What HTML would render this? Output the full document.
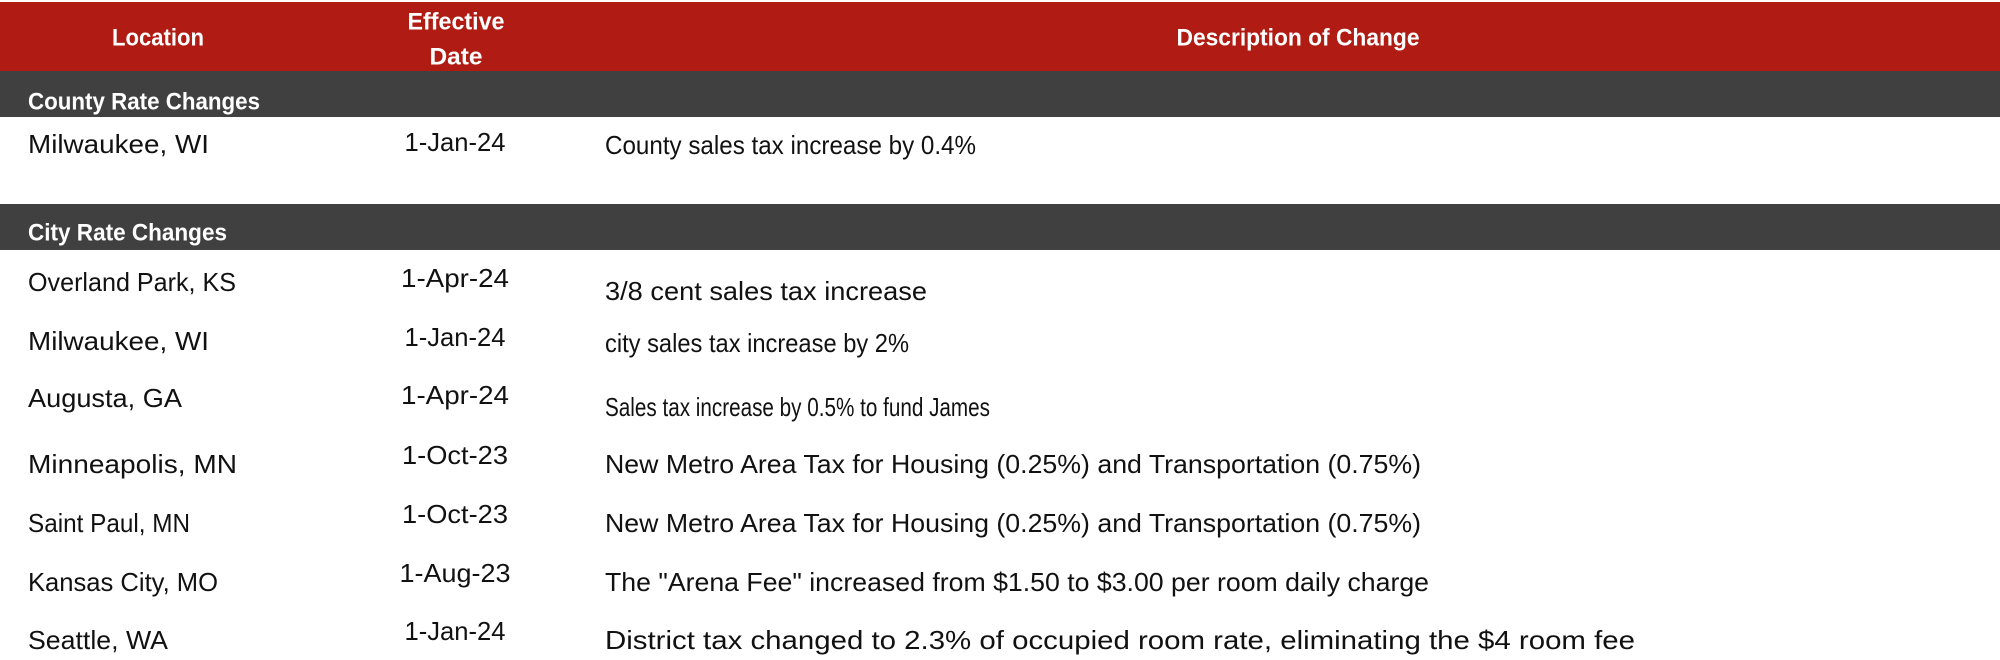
<!DOCTYPE html>
<html><head><meta charset="utf-8"><style>
html,body{margin:0;padding:0;background:#fff;width:2000px;height:660px;overflow:hidden}
svg text{font-family:"Liberation Sans Narrow","Liberation Sans",sans-serif;dominant-baseline:central}
.h{fill:#fff;font-weight:bold;font-size:24px}
.t{fill:#111;font-size:26px}
</style></head><body>
<svg width="2000" height="660" viewBox="0 0 2000 660" xmlns="http://www.w3.org/2000/svg">
<rect x="0" y="2" width="2000" height="69" fill="#b01c14"/>
<rect x="0" y="71" width="2000" height="46" fill="#404040"/>
<rect x="0" y="204" width="2000" height="46" fill="#404040"/>
<g class="h">
<text x="158" y="38" text-anchor="middle" textLength="92" lengthAdjust="spacingAndGlyphs">Location</text>
<text x="456" y="22" text-anchor="middle" textLength="97" lengthAdjust="spacingAndGlyphs">Effective</text>
<text x="456" y="57" text-anchor="middle" textLength="53" lengthAdjust="spacingAndGlyphs">Date</text>
<text x="1298" y="38" text-anchor="middle" textLength="243" lengthAdjust="spacingAndGlyphs">Description of Change</text>
<text x="28" y="102" textLength="232" lengthAdjust="spacingAndGlyphs">County Rate Changes</text>
<text x="28" y="233" textLength="199" lengthAdjust="spacingAndGlyphs">City Rate Changes</text>
</g>
<g class="t">
<text x="28" y="144" textLength="181" lengthAdjust="spacingAndGlyphs">Milwaukee, WI</text>
<text x="455" y="142" text-anchor="middle" textLength="101" lengthAdjust="spacingAndGlyphs">1-Jan-24</text>
<text x="605" y="145" textLength="371" lengthAdjust="spacingAndGlyphs">County sales tax increase by 0.4%</text>

<text x="28" y="282" textLength="208" lengthAdjust="spacingAndGlyphs">Overland Park, KS</text>
<text x="455" y="278" text-anchor="middle" textLength="108" lengthAdjust="spacingAndGlyphs">1-Apr-24</text>
<text x="605" y="291" textLength="322" lengthAdjust="spacingAndGlyphs">3/8 cent sales tax increase</text>

<text x="28" y="341" textLength="181" lengthAdjust="spacingAndGlyphs">Milwaukee, WI</text>
<text x="455" y="337" text-anchor="middle" textLength="101" lengthAdjust="spacingAndGlyphs">1-Jan-24</text>
<text x="605" y="343" textLength="304" lengthAdjust="spacingAndGlyphs">city sales tax increase by 2%</text>

<text x="28" y="398" textLength="154" lengthAdjust="spacingAndGlyphs">Augusta, GA</text>
<text x="455" y="395" text-anchor="middle" textLength="108" lengthAdjust="spacingAndGlyphs">1-Apr-24</text>
<text x="605" y="407" textLength="385" lengthAdjust="spacingAndGlyphs">Sales tax increase by 0.5% to fund James</text>

<text x="28" y="464" textLength="209" lengthAdjust="spacingAndGlyphs">Minneapolis, MN</text>
<text x="455" y="455" text-anchor="middle" textLength="106" lengthAdjust="spacingAndGlyphs">1-Oct-23</text>
<text x="605" y="464" textLength="816" lengthAdjust="spacingAndGlyphs">New Metro Area Tax for Housing (0.25%) and Transportation (0.75%)</text>

<text x="28" y="523" textLength="162" lengthAdjust="spacingAndGlyphs">Saint Paul, MN</text>
<text x="455" y="514" text-anchor="middle" textLength="106" lengthAdjust="spacingAndGlyphs">1-Oct-23</text>
<text x="605" y="523" textLength="816" lengthAdjust="spacingAndGlyphs">New Metro Area Tax for Housing (0.25%) and Transportation (0.75%)</text>

<text x="28" y="582" textLength="190" lengthAdjust="spacingAndGlyphs">Kansas City, MO</text>
<text x="455" y="573" text-anchor="middle" textLength="111" lengthAdjust="spacingAndGlyphs">1-Aug-23</text>
<text x="605" y="582" textLength="824" lengthAdjust="spacingAndGlyphs">The "Arena Fee" increased from $1.50 to $3.00 per room daily charge</text>

<text x="28" y="640" textLength="140" lengthAdjust="spacingAndGlyphs">Seattle, WA</text>
<text x="455" y="631" text-anchor="middle" textLength="101" lengthAdjust="spacingAndGlyphs">1-Jan-24</text>
<text x="605" y="640" textLength="1030" lengthAdjust="spacingAndGlyphs">District tax changed to 2.3% of occupied room rate, eliminating the $4 room fee</text>
</g>
</svg>
</body></html>
